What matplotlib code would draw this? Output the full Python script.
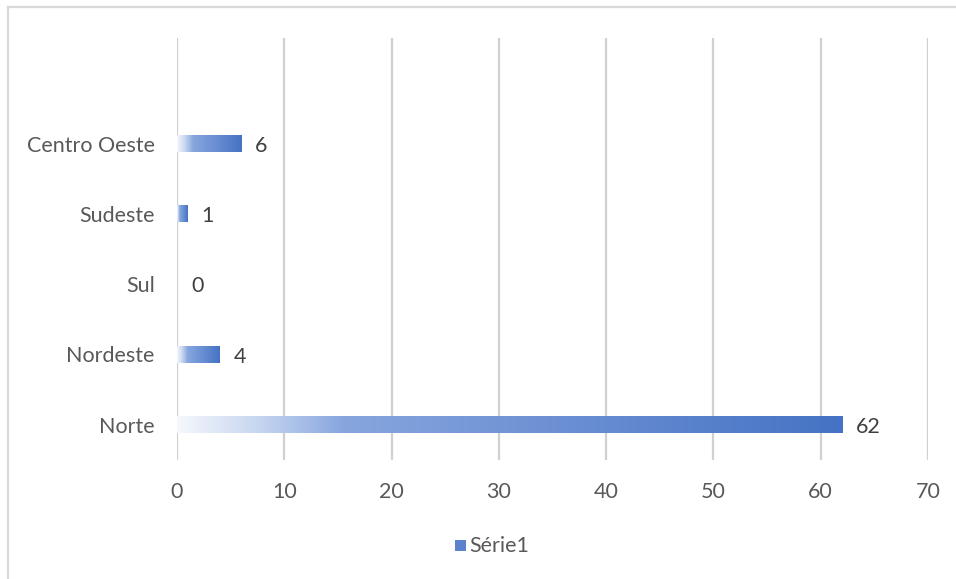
import numpy as np
import matplotlib
matplotlib.use("Agg")
import matplotlib.pyplot as plt
from matplotlib.colors import LinearSegmentedColormap
from matplotlib.patches import Rectangle
from matplotlib.lines import Line2D

# Data
categories = ["Norte", "Nordeste", "Sul", "Sudeste", "Centro Oeste"]
values = [62, 4, 0, 1, 6]
series_name = "Série1"
x_ticks = [0, 10, 20, 30, 40, 50, 60, 70]

plt.rcParams["font.family"] = ["Lato", "DejaVu Sans"]
FS = 15.5

fig = plt.figure(figsize=(9.56, 5.79), dpi=100)
fig.patch.set_facecolor("white")

# Chart-area frame (top and left edges)
fig.add_artist(Line2D([8 / 956, 1.0], [1 - 7 / 579, 1 - 7 / 579], color="#d9d9d9", lw=1.6,
                      transform=fig.transFigure))
fig.add_artist(Line2D([8 / 956, 8 / 956], [0, 1 - 7 / 579], color="#d9d9d9", lw=1.6,
                      transform=fig.transFigure))

ax = fig.add_axes([177 / 956, 1 - 460 / 579, (928 - 177) / 956, (460 - 38) / 579])

grad = LinearSegmentedColormap.from_list(
    "bar_grad",
    [(0.0, (0.96, 0.97, 0.99)),
     (0.12, (0.78, 0.84, 0.94)),
     (0.25, (0.53, 0.65, 0.87)),
     (0.55, (0.43, 0.57, 0.83)),
     (1.0, (0.27, 0.45, 0.77))])

bar_h = 0.24
ypos = np.arange(len(categories))
gradient = np.linspace(0, 1, 256).reshape(1, -1)

for y, v in zip(ypos, values):
    if v > 0:
        rect = Rectangle((0, y - bar_h / 2), v, bar_h, facecolor="none",
                         edgecolor="none", zorder=3)
        ax.add_patch(rect)
        im = ax.imshow(gradient, cmap=grad, aspect="auto",
                       extent=(0, v, y - bar_h / 2, y + bar_h / 2),
                       zorder=3, interpolation="bilinear")
        im.set_clip_path(rect)
    ax.annotate(str(v), xy=(v, y), xytext=(10, -1.5), textcoords="offset points",
                ha="left", va="center", fontsize=FS, color="#404040", zorder=4)

ax.set_xlim(0, 70)
ax.set_ylim(-0.5, len(categories) + 0.5)
ax.set_xticks(x_ticks)
ax.set_xticklabels([str(t) for t in x_ticks])
ax.set_yticks(ypos)
ax.set_yticklabels(categories)
ax.tick_params(axis="both", length=0, labelsize=FS, labelcolor="#595959")
ax.tick_params(axis="x", pad=16)
ax.tick_params(axis="y", pad=16)
ax.grid(axis="x", color="#d0d0d0", lw=1.6, zorder=0)
ax.set_axisbelow(True)
for s in ax.spines.values():
    s.set_visible(False)

# Legend
fig.patches.append(Rectangle((455 / 956, 1 - 551 / 579), 11 / 956, 11 / 579,
                             transform=fig.transFigure, facecolor="#5b82cc",
                             edgecolor="none"))
fig.text(469 / 956, 1 - 546 / 579, series_name, ha="left", va="center",
         fontsize=FS, color="#595959")

fig.savefig("out.png", dpi=100, facecolor="white")
